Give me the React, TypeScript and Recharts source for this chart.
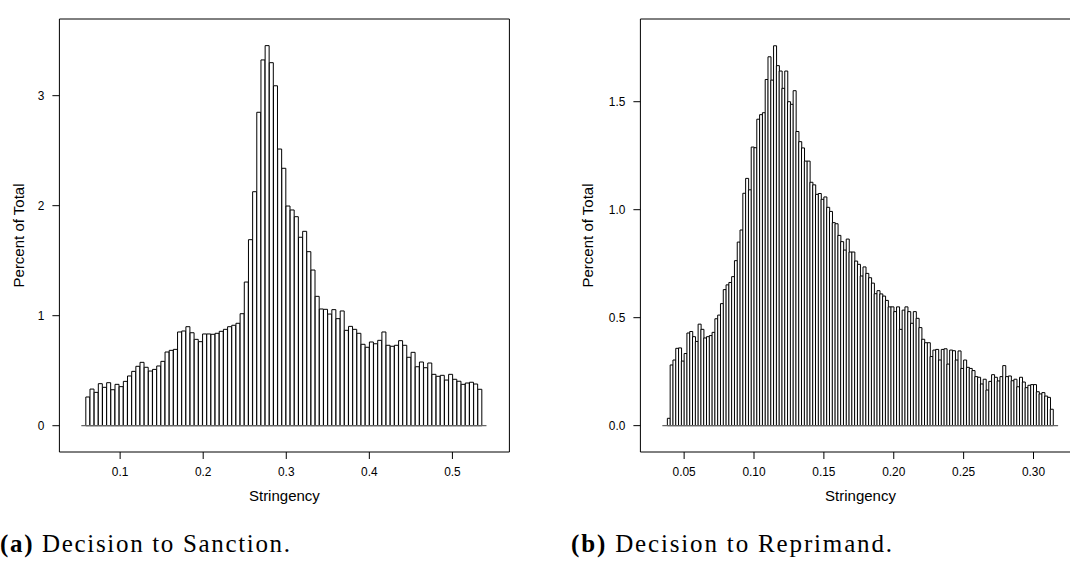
import { Bar, ComposedChart, Label, ReferenceLine, XAxis, YAxis } from 'recharts'

// Sanction stringency: 95 bins of ~0.005, percent of total per bin
const SANCTION_START = 0.0587
const SANCTION_WIDTH = 0.00502
const SANCTION_PCT = [
  0.261, 0.333, 0.303, 0.382, 0.349, 0.391, 0.327, 0.376, 0.355, 0.403,
  0.452, 0.494, 0.54, 0.576, 0.531, 0.497, 0.512, 0.543, 0.585, 0.67,
  0.685, 0.694, 0.852, 0.861, 0.9, 0.845, 0.785, 0.764, 0.834, 0.834,
  0.831, 0.84, 0.858, 0.876, 0.9, 0.913, 0.931, 1.018, 1.306, 1.691,
  2.127, 2.849, 3.325, 3.455, 3.3, 3.09, 2.515, 2.34, 1.997, 1.961,
  1.9, 1.713, 1.767, 1.582, 1.415, 1.176, 1.061, 1.058, 1.015, 1.055,
  0.973, 1.043, 0.867, 0.903, 0.876, 0.84, 0.74, 0.713, 0.761, 0.745,
  0.776, 0.852, 0.731, 0.722, 0.731, 0.773, 0.731, 0.622, 0.667, 0.536,
  0.579, 0.527, 0.57, 0.467, 0.449, 0.458, 0.415, 0.467, 0.422, 0.404,
  0.376, 0.388, 0.395, 0.379, 0.331,
]
const SANCTION_X_TICKS = [0.1, 0.2, 0.3, 0.4, 0.5]
const SANCTION_Y_TICKS = [0, 1, 2, 3]

// Reprimand stringency: 138 bins of 0.002
const REPRIMAND_START = 0.038
const REPRIMAND_WIDTH = 0.002
const REPRIMAND_PCT = [
  0.034, 0.281, 0.304, 0.358, 0.36, 0.299, 0.334, 0.429, 0.436, 0.412,
  0.39, 0.47, 0.446, 0.406, 0.412, 0.417, 0.432, 0.495, 0.512, 0.565,
  0.63, 0.652, 0.663, 0.69, 0.764, 0.85, 0.906, 1.076, 1.145, 1.092,
  1.29, 1.287, 1.419, 1.44, 1.449, 1.603, 1.708, 1.6, 1.759,
  1.667, 1.642, 1.562, 1.642, 1.5, 1.488, 1.551, 1.362, 1.315, 1.286,
  1.225, 1.225, 1.127, 1.115, 1.071, 1.075, 1.048, 1.059, 1.011, 0.992,
  0.94, 0.935, 0.881, 0.852, 0.813, 0.864, 0.804, 0.804, 0.762, 0.747,
  0.693, 0.735, 0.705, 0.685, 0.66, 0.611, 0.625, 0.61, 0.6, 0.58,
  0.55, 0.55, 0.528, 0.55, 0.446, 0.535, 0.55, 0.528, 0.474, 0.528,
  0.497, 0.454, 0.4, 0.384, 0.384, 0.32, 0.35, 0.353, 0.304, 0.353,
  0.356, 0.285, 0.35, 0.347, 0.304, 0.346, 0.265, 0.304, 0.27, 0.265,
  0.255, 0.227, 0.224, 0.193, 0.215, 0.165, 0.205, 0.236, 0.224, 0.207,
  0.227, 0.278, 0.227, 0.23, 0.208, 0.215, 0.18, 0.224, 0.202, 0.176,
  0.187, 0.19, 0.19, 0.157, 0.147, 0.153, 0.137, 0.131, 0.076,
]
const REPRIMAND_X_TICKS = [0.05, 0.1, 0.15, 0.2, 0.25, 0.3]
const REPRIMAND_Y_TICKS = [0, 0.5, 1, 1.5]

const SANS = '"Liberation Sans", Arial, Helvetica, sans-serif'
const SERIF = '"Liberation Serif", "Times New Roman", serif'
const TICK_STYLE = { fill: '#000', fontSize: 11.9, fontFamily: SANS }
const TITLE_STYLE = { fill: '#000', fontSize: 15, fontFamily: SANS }

interface HistogramProps {
  start: number
  width: number
  pct: number[]
  xDomain: [number, number]
  yDomain: [number, number]
  xTicks: number[]
  yTicks: number[]
  xDigits: number
  yDigits: number
  chartWidth: number
  leftWidth: number
  rightWidth: number
  yLabelOffset: number
  baselinePad: number
}

function Histogram(p: HistogramProps) {
  const rows = p.pct.map((pct, i) => ({ x: p.start + (i + 0.5) * p.width, pct }))
  const lo = p.start - p.baselinePad
  const hi = p.start + p.pct.length * p.width + p.baselinePad

  return (
    <ComposedChart
      width={p.chartWidth}
      height={520}
      data={rows}
      margin={{ top: 0, right: 0, bottom: 0, left: 0 }}
      barCategoryGap={0}
      barGap={0}
    >
      <XAxis
        xAxisId="b"
        dataKey="x"
        type="number"
        domain={p.xDomain}
        allowDataOverflow
        ticks={p.xTicks}
        tickFormatter={(v: number) => v.toFixed(p.xDigits)}
        height={68}
        tickSize={7}
        tickMargin={9}
        stroke="#000"
        tick={TICK_STYLE}
      >
        <Label value="Stringency" position="insideBottom" offset={19} style={TITLE_STYLE} />
      </XAxis>
      <XAxis
        xAxisId="t"
        orientation="top"
        dataKey="x"
        type="number"
        domain={p.xDomain}
        allowDataOverflow
        ticks={p.xTicks}
        height={19}
        tickSize={7}
        stroke="#000"
        tick={false}
      />
      <YAxis
        yAxisId="l"
        type="number"
        domain={p.yDomain}
        allowDataOverflow
        ticks={p.yTicks}
        tickFormatter={(v: number) => v.toFixed(p.yDigits)}
        width={p.leftWidth}
        tickSize={7}
        tickMargin={8}
        stroke="#000"
        tick={TICK_STYLE}
      >
        <Label
          value="Percent of Total"
          angle={-90}
          position="insideLeft"
          offset={p.yLabelOffset}
          style={{ ...TITLE_STYLE, textAnchor: 'middle' }}
        />
      </YAxis>
      <YAxis
        yAxisId="r"
        orientation="right"
        type="number"
        domain={p.yDomain}
        allowDataOverflow
        ticks={p.yTicks}
        width={p.rightWidth}
        tickSize={7}
        stroke="#000"
        tick={false}
      />
      <Bar
        xAxisId="b"
        yAxisId="l"
        dataKey="pct"
        fill="#fff"
        stroke="#000"
        strokeWidth={1}
        isAnimationActive={false}
      />
      <ReferenceLine
        xAxisId="b"
        yAxisId="l"
        segment={[{ x: lo, y: 0 }, { x: hi, y: 0 }]}
        stroke="#666"
        strokeWidth={1.3}
      />
    </ComposedChart>
  )
}

export default function App() {
  return (
    <div
      style={{
        position: 'absolute',
        left: 0,
        top: 0,
        width: 1070,
        height: 561,
        overflow: 'hidden',
        background: '#fff',
      }}
    >
      <div style={{ position: 'absolute', left: 0, top: 0 }}>
        <Histogram
          start={SANCTION_START}
          width={SANCTION_WIDTH}
          pct={SANCTION_PCT}
          xDomain={[0.0269, 0.5686]}
          yDomain={[-0.239, 3.697]}
          xTicks={SANCTION_X_TICKS}
          yTicks={SANCTION_Y_TICKS}
          xDigits={1}
          yDigits={0}
          chartWidth={535}
          leftWidth={59.4}
          rightWidth={25.6}
          yLabelOffset={19}
          baselinePad={0.0054}
        />
      </div>
      <div style={{ position: 'absolute', left: 535, top: 0 }}>
        <Histogram
          start={REPRIMAND_START}
          width={REPRIMAND_WIDTH}
          pct={REPRIMAND_PCT}
          xDomain={[0.0187, 0.3337]}
          yDomain={[-0.122, 1.883]}
          xTicks={REPRIMAND_X_TICKS}
          yTicks={REPRIMAND_Y_TICKS}
          xDigits={2}
          yDigits={1}
          chartWidth={570}
          leftWidth={105.4}
          rightWidth={24.4}
          yLabelOffset={53}
          baselinePad={0.0036}
        />
      </div>
      <svg
        width={1070}
        height={561}
        style={{ position: 'absolute', left: 0, top: 0, pointerEvents: 'none' }}
      >
        <text x={0} y={552} fontFamily={SERIF} fontSize={25} fill="#000" textLength={290} lengthAdjust="spacing">
          <tspan fontWeight="bold">(a)</tspan> Decision to Sanction.
        </text>
        <text x={571} y={552} fontFamily={SERIF} fontSize={25} fill="#000" textLength={321} lengthAdjust="spacing">
          <tspan fontWeight="bold">(b)</tspan> Decision to Reprimand.
        </text>
      </svg>
    </div>
  )
}
